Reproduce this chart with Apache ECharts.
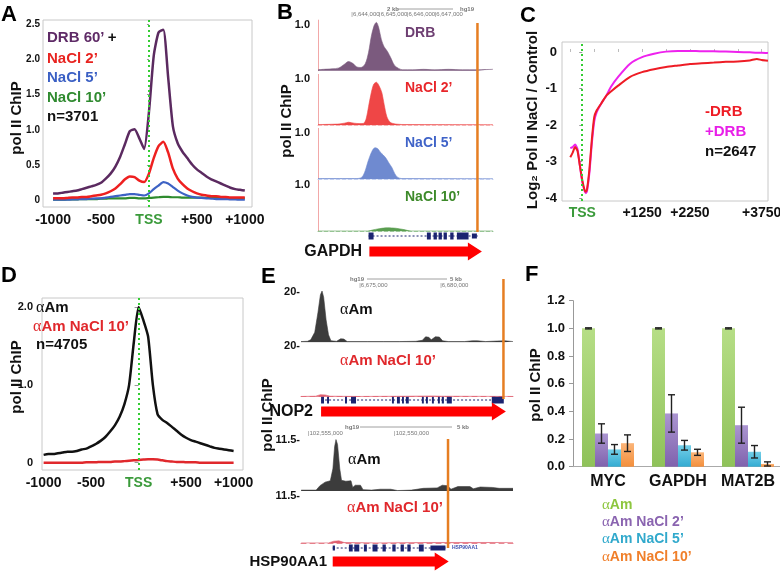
<!DOCTYPE html>
<html>
<head>
<meta charset="utf-8">
<script src="https://cdn.jsdelivr.net/npm/echarts@6/dist/echarts.min.js"></script>
<style>
  html, body { margin: 0; padding: 0; background: #fff; }
  #chart { width: 780px; height: 571px; }
</style>
</head>
<body>
<div id="chart"></div>
<script>
// ---------- data ----------
// A: metagene around TSS (DRB 60' + NaCl time course)
const aPos = [-1000,-950,-900,-850,-800,-750,-700,-650,-600,-550,-500,-450,-400,-350,-300,-250,-200,-150,-100,-50,0,50,100,150,200,250,300,350,400,450,500,550,600,650,700,750,800,850,900,950,1000];
const aDRB = [0.10,0.10,0.11,0.12,0.13,0.14,0.16,0.18,0.20,0.22,0.25,0.31,0.38,0.48,0.62,0.80,0.98,1.01,0.88,0.73,1.25,2.05,2.38,2.42,1.75,1.05,0.81,0.69,0.60,0.51,0.44,0.39,0.34,0.30,0.27,0.24,0.21,0.18,0.16,0.15,0.14];
const aNaCl2 = [0.03,0.03,0.03,0.035,0.04,0.04,0.05,0.05,0.06,0.07,0.08,0.10,0.13,0.17,0.23,0.30,0.34,0.33,0.28,0.26,0.38,0.60,0.77,0.83,0.68,0.45,0.31,0.23,0.17,0.13,0.10,0.08,0.07,0.06,0.06,0.05,0.05,0.04,0.04,0.04,0.04];
const aNaCl5 = [0.01,0.01,0.01,0.01,0.015,0.015,0.02,0.02,0.025,0.03,0.03,0.04,0.05,0.06,0.07,0.08,0.09,0.09,0.08,0.07,0.10,0.16,0.21,0.26,0.24,0.19,0.14,0.10,0.07,0.05,0.04,0.035,0.03,0.025,0.02,0.02,0.02,0.015,0.015,0.01,0.01];
const aNaCl10 = [0.01,0.01,0.01,0.015,0.015,0.015,0.02,0.02,0.02,0.02,0.025,0.025,0.03,0.03,0.03,0.03,0.035,0.035,0.03,0.03,0.035,0.04,0.045,0.05,0.05,0.045,0.045,0.04,0.04,0.04,0.04,0.04,0.035,0.035,0.035,0.03,0.03,0.03,0.03,0.03,0.03];
const aXTicks = [-1000, -500, 0, 500, 1000];
const aYTicks = [0, 0.5, 1, 1.5, 2, 2.5];

// C: log2 NaCl / control
const cPos = [-250,-200,-150,-100,-50,0,50,75,100,150,200,250,300,400,500,600,750,1000,1250,1500,1750,2000,2250,2500,2750,3000,3250,3500,3650,3750,3880];
const cMinusDRB = [-2.88,-2.75,-2.6,-2.7,-3.1,-3.5,-3.78,-3.82,-3.75,-3.2,-2.4,-1.78,-1.6,-1.4,-1.2,-1.08,-0.92,-0.68,-0.55,-0.47,-0.41,-0.37,-0.33,-0.31,-0.29,-0.27,-0.26,-0.23,-0.19,-0.22,-0.24];
const cPlusDRB = [-2.63,-2.6,-2.53,-2.65,-3.1,-3.55,-3.8,-3.86,-3.8,-3.3,-2.5,-1.9,-1.65,-1.4,-1.2,-0.95,-0.68,-0.32,-0.14,-0.05,0.01,0.03,0.03,0.02,0.02,0.01,0.0,-0.01,-0.02,-0.02,-0.03];
const cXLabels = [0, 1250, 2250, 3750];
const cXTicks = [-250, 250, 750, 1250, 1750, 2250, 2750, 3250, 3750];
const cYTicks = [0, -1, -2, -3, -4];

// D: alpha-amanitin metagene
const dAm = [0.10,0.11,0.11,0.12,0.13,0.14,0.14,0.15,0.17,0.18,0.21,0.24,0.28,0.33,0.40,0.48,0.59,0.75,1.00,1.55,2.00,1.83,1.62,1.00,0.62,0.55,0.51,0.46,0.41,0.36,0.32,0.29,0.27,0.25,0.23,0.21,0.19,0.18,0.17,0.16,0.15];
const dAmNaCl10 = [0,0,0,0,0,0,0,0,0,0.005,0.005,0.005,0.01,0.01,0.01,0.015,0.015,0.02,0.025,0.03,0.035,0.04,0.045,0.045,0.04,0.03,0.02,0.015,0.01,0.01,0.005,0.005,0.005,0,0,0,0,0,0,0,0];
const dYTicks = [0, 1, 2];

// B: GAPDH browser tracks, [kb, signal]
const bDRB = [[6642.8,0.02],[6643.0,0.03],[6643.3,0.04],[6643.55,0.06],[6643.75,0.14],[6643.9,0.2],[6644.05,0.16],[6644.2,0.08],[6644.35,0.07],[6644.5,0.15],[6644.62,0.4],[6644.72,0.75],[6644.82,0.98],[6644.9,1.05],[6644.98,0.95],[6645.08,0.68],[6645.18,0.52],[6645.3,0.42],[6645.42,0.28],[6645.55,0.12],[6645.7,0.05],[6645.85,0.02],[6646.2,0.02],[6646.6,0.03],[6647.0,0.02],[6647.5,0.03],[6648.0,0.02],[6648.5,0.02],[6649.1,0.03]];
const bNaCl2 = [[6642.8,0.01],[6643.5,0.02],[6643.75,0.04],[6643.9,0.06],[6644.1,0.04],[6644.3,0.03],[6644.45,0.04],[6644.54,0.15],[6644.62,0.4],[6644.7,0.65],[6644.8,0.88],[6644.9,0.93],[6645.0,0.85],[6645.1,0.7],[6645.18,0.45],[6645.28,0.18],[6645.4,0.06],[6645.6,0.02],[6646.0,0.01],[6649.1,0.01]];
const bNaCl5 = [[6642.8,0.01],[6644.2,0.01],[6644.38,0.04],[6644.5,0.18],[6644.6,0.38],[6644.74,0.6],[6644.85,0.68],[6644.95,0.66],[6645.05,0.58],[6645.15,0.52],[6645.25,0.45],[6645.35,0.35],[6645.46,0.25],[6645.56,0.12],[6645.66,0.04],[6645.8,0.01],[6649.1,0.01]];
const bNaCl10 = [[6642.8,0],[6644.6,0],[6644.75,0.02],[6645.0,0.05],[6645.3,0.07],[6645.6,0.06],[6645.9,0.03],[6646.15,0],[6649.1,0]];
const bRuler = [6643, 6644, 6645, 6646, 6647, 6648];
const gapdhExons = [[6644.62,6644.80,1],[6646.72,6646.86,1],[6646.96,6647.08,1],[6647.14,6647.26,1],[6647.32,6647.44,1],[6647.56,6647.68,1],[6647.80,6648.22,1],[6648.34,6648.52,0]];
const gapdhSpan = [6644.62, 6648.55];
const gapdhArrow = [6644.65, 6648.70];
const gapdhMark = 6648.54;

// E: NOP2 and HSP90AA1 tracks, [kb, signal]
const nopAm = [[6671.4,0.3],[6671.8,0.4],[6672.0,1.0],[6672.25,4],[6672.45,12],[6672.6,19],[6672.7,20.5],[6672.8,18],[6672.95,9],[6673.1,3],[6673.25,0.6],[6673.6,0.4],[6673.85,1.4],[6674.05,1.3],[6674.25,0.3],[6675.5,0.3],[6676.5,0.3],[6677.5,0.3],[6678.5,0.4],[6678.9,0.8],[6679.1,2.2],[6679.3,2.0],[6679.45,1.0],[6679.7,2.2],[6679.95,2.1],[6680.15,0.6],[6680.5,0.3],[6681.5,0.3],[6682.0,0.6],[6682.3,0.6],[6682.8,0.3],[6683.5,0.5],[6684.0,0.6],[6684.5,0.3]];
const nopAmNaCl = [[6671.4,0.1],[6672.3,0.2],[6672.6,0.8],[6672.9,0.7],[6673.2,0.2],[6675.0,0.1],[6678.0,0.2],[6679.6,0.3],[6680.0,0.2],[6684.5,0.1]];
const nopRuler = [6675, 6680];
const nopExons = [[6672.64,6672.82,1],[6673.01,6673.13,1],[6674.12,6674.24,1],[6674.49,6674.80,1],[6677.02,6677.14,1],[6677.33,6677.51,1],[6677.64,6677.76,1],[6677.88,6678.06,1],[6678.87,6678.99,1],[6679.12,6679.24,1],[6679.49,6679.61,1],[6679.86,6679.98,1],[6680.10,6680.23,1],[6680.41,6680.72,1],[6683.19,6683.93,1]];
const nopSpan = [6672.64, 6683.93];
const nopArrow = [6672.64, 6684.06];
const nopMark = 6683.91;

const hspAm = [[102555.39,0.2],[102554.52,0.2],[102554.3,1.2],[102554.0,2.0],[102553.7,2.3],[102553.55,5],[102553.45,10],[102553.37,11.6],[102553.28,10.5],[102553.15,5],[102553.05,2.4],[102552.8,2.2],[102552.5,2.3],[102552.4,0.8],[102552.25,1.3],[102551.95,1.3],[102551.8,0.3],[102551.3,0.2],[102550.8,0.4],[102550.2,0.4],[102549.8,0.1],[102549.0,0.2],[102548.3,0.6],[102547.5,0.7],[102547.2,1.3],[102546.9,1.2],[102546.7,0.4],[102546.3,1.0],[102545.6,1.0],[102545.4,0.5],[102545.0,0.9],[102544.3,0.8],[102543.9,0.6],[102543.1,0.6]];
const hspAmNaCl = [[102555.39,0.1],[102553.8,0.1],[102553.5,0.5],[102553.2,0.6],[102552.9,0.2],[102551.0,0.1],[102548.0,0.2],[102545.0,0.2],[102543.1,0.2]];
const hspRuler = [102555, 102550];
const hspExons = [[102553.56,102553.43,0],[102552.62,102552.40,1],[102552.31,102552.02,1],[102551.75,102551.58,1],[102551.25,102550.96,1],[102550.67,102550.48,1],[102550.10,102549.91,1],[102549.62,102549.43,1],[102549.23,102549.04,1],[102548.56,102548.28,1],[102547.89,102547.02,0]];
const hspSpan = [102553.56, 102547.02];
const hspArrow = [102553.56, 102546.83];
const hspMark = 102546.87;

// F: ChIP-qPCR
const fGenes = ['MYC', 'GAPDH', 'MAT2B'];
const fAm = [1.0, 1.0, 1.0];
const fAmErr = [0.004, 0.004, 0.004];
const fNaCl2 = [0.24, 0.385, 0.30];
const fNaCl2Err = [0.07, 0.135, 0.13];
const fNaCl5 = [0.125, 0.155, 0.108];
const fNaCl5Err = [0.035, 0.035, 0.045];
const fNaCl10 = [0.17, 0.104, 0.02];
const fNaCl10Err = [0.06, 0.022, 0.015];

// ---------- helpers ----------
const SANS = '"Liberation Sans", Arial, Helvetica, sans-serif';
const SERIF = '"Liberation Serif", "DejaVu Serif", serif';
const TSS_GREEN = '#3a9a3a';
const ORANGE = '#e67e22';
const NAVY = '#1b2470';
function font(size, weight) { return (weight || 'bold') + ' ' + size + 'px ' + SANS; }
function pair(xs, ys) { return xs.map((x, i) => [x, ys[i]]); }
function thousands(v) { return Math.round(v * 1000).toString().replace(/\B(?=(\d{3})+(?!\d))/g, ','); }
function posLabel(v) { return v === 0 ? '{t|TSS}' : (v > 0 ? '+' + v : String(v)); }

const grids = [], xAxes = [], yAxes = [], series = [], gfx = [];
function addGrid(g, xa, ya) {
  const i = grids.length;
  grids.push(Object.assign({ show: false, containLabel: false, outerBoundsMode: 'none' }, g));
  xAxes.push(Object.assign({ gridIndex: i, type: 'value', splitLine: { show: false } }, xa));
  yAxes.push(Object.assign({ gridIndex: i, type: 'value', splitLine: { show: false } }, ya));
  return i;
}
const box = { show: true, borderColor: '#c8c8c8', borderWidth: 1 };
const hidden = { show: false };

function tssLine() {
  return { silent: true, symbol: 'none', label: { show: false },
    lineStyle: { color: '#33cc33', type: [2, 3], width: 2 }, data: [{ xAxis: 0 }] };
}
function curve(gi, data, color, width, extra) {
  return Object.assign({ type: 'line', xAxisIndex: gi, yAxisIndex: gi, data: data, showSymbol: false,
    smooth: 0.2, lineStyle: { color: color, width: width }, itemStyle: { color: color }, z: 3 }, extra || {});
}
function track(gi, data, color, smooth) {
  return { type: 'line', xAxisIndex: gi, yAxisIndex: gi, data: data, showSymbol: false, smooth: smooth,
    lineStyle: { color: color, width: 0.6 }, areaStyle: { color: color, opacity: 1 } };
}
function xLabelStyle(vals, margin) {
  return { customValues: vals, formatter: posLabel, margin: margin, fontSize: 14, fontWeight: 'bold',
    color: '#111', fontFamily: SANS, rich: { t: { color: TSS_GREEN, fontSize: 14, fontWeight: 'bold', fontFamily: SANS } } };
}

// custom renderers
function geneRender(params, api) {
  const cs = params.coordSys;
  const x0 = api.coord([api.value(0), 0])[0];
  const x1 = api.coord([api.value(1), 0])[0];
  const h = api.value(2) ? 7 : 5;
  const cy = cs.y + cs.height / 2;
  return { type: 'rect', shape: { x: Math.min(x0, x1), y: cy - h / 2, width: Math.max(1.5, Math.abs(x1 - x0)), height: h },
    style: { fill: NAVY } };
}
function arrowRender(params, api) {
  const cs = params.coordSys;
  const x0 = api.coord([api.value(0), 0])[0];
  const x1 = api.coord([api.value(1), 0])[0];
  const cy = cs.y + cs.height / 2;
  const d = x1 > x0 ? 1 : -1, hl = 14, bh = 5, hh = 9;
  const xb = x1 - d * hl;
  return { type: 'polygon', shape: { points: [[x0, cy - bh], [xb, cy - bh], [xb, cy - hh], [x1, cy], [xb, cy + hh], [xb, cy + bh], [x0, cy + bh]] },
    style: { fill: '#ff0000' } };
}
function markRender(params, api) {
  const cs = params.coordSys;
  const x = api.coord([api.value(0), 0])[0];
  return { type: 'line', shape: { x1: x, y1: cs.y, x2: x, y2: cs.y + cs.height }, style: { stroke: ORANGE, lineWidth: 2.5 } };
}

// a locus: gene row, arrow row and orange marker share one x range
function locus(xr, inverse, geneRow, arrowRow, markRect, exons, span, arrow, mark) {
  const xa = Object.assign({ show: false, min: xr[0], max: xr[1], inverse: inverse });
  const ya = { show: false, min: 0, max: 1 };
  const gg = addGrid(geneRow, xa, ya);
  series.push({ type: 'line', xAxisIndex: gg, yAxisIndex: gg, data: [[span[0], 0.5], [span[1], 0.5]], showSymbol: false,
    lineStyle: { color: NAVY, width: 1, type: [2, 2] }, silent: true });
  series.push({ type: 'custom', xAxisIndex: gg, yAxisIndex: gg, renderItem: geneRender, data: exons, encode: { x: [0, 1] }, silent: true });
  const ga = addGrid(arrowRow, xa, ya);
  series.push({ type: 'custom', xAxisIndex: ga, yAxisIndex: ga, renderItem: arrowRender, data: [arrow], encode: { x: [0, 1] }, silent: true });
  const gm = addGrid(markRect, xa, ya);
  series.push({ type: 'custom', xAxisIndex: gm, yAxisIndex: gm, renderItem: markRender, data: [[mark]], encode: { x: 0 }, silent: true, z: 5 });
}

// ---------- panel A ----------
const gA = addGrid(Object.assign({ left: 43, top: 20, width: 209, height: 187 }, box),
  { min: -1105, max: 1075, axisLine: hidden, axisTick: hidden, axisLabel: xLabelStyle(aXTicks, 6) },
  { min: -0.093, max: 2.557, axisLine: hidden,
    axisTick: { show: true, customValues: aYTicks, length: 2, lineStyle: { color: '#999' } },
    axisLabel: { customValues: aYTicks, formatter: v => v === 0 ? '0' : v.toFixed(1), margin: 3, fontSize: 10, fontWeight: 'bold', color: '#111', fontFamily: SANS } });
series.push(curve(gA, pair(aPos, aNaCl10), '#2e8b2e', 2.2));
series.push(curve(gA, pair(aPos, aNaCl5), '#3d62c4', 2.2));
series.push(curve(gA, pair(aPos, aNaCl2), '#ee2020', 2.5));
series.push(curve(gA, pair(aPos, aDRB), '#5b2a60', 2.5, { markLine: tssLine() }));

// ---------- panel C ----------
const gC = addGrid(Object.assign({ left: 562, top: 42, width: 206, height: 159 }, box),
  { min: -423, max: 3881, axisLine: hidden,
    axisTick: { show: true, customValues: cXTicks, inside: true, length: 3, lineStyle: { color: '#bbb' } },
    axisLabel: xLabelStyle(cXLabels, 5) },
  { min: -4.074, max: 0.273, axisLine: hidden,
    axisTick: { show: true, customValues: cYTicks, length: 3, lineStyle: { color: '#999' } },
    axisLabel: { customValues: cYTicks, margin: 5, fontSize: 13, fontWeight: 'bold', color: '#111', fontFamily: SANS } });
series.push(curve(gC, pair(cPos, cPlusDRB), '#ee22ee', 2, { markLine: tssLine() }));
series.push(curve(gC, pair(cPos, cMinusDRB), '#ee1c25', 2));

// ---------- panel D ----------
const gD = addGrid(Object.assign({ left: 42, top: 298, width: 201, height: 172 }, box),
  { min: -1017, max: 1099, axisLine: hidden, axisTick: hidden, axisLabel: xLabelStyle(aXTicks, 6) },
  { min: -0.094, max: 2.115, axisLine: hidden,
    axisTick: { show: true, customValues: dYTicks, length: 4, lineStyle: { color: '#999' } },
    axisLabel: { customValues: dYTicks, formatter: v => v === 0 ? '0' : v.toFixed(1), margin: 9, fontSize: 11, fontWeight: 'bold', color: '#111', fontFamily: SANS } });
series.push(curve(gD, pair(aPos, dAmNaCl10), '#e0282c', 2.5));
series.push(curve(gD, pair(aPos, dAm), '#111111', 2.5, { markLine: tssLine() }));

// ---------- panel F ----------
const gF = addGrid({ left: 573, top: 300.7, width: 210, height: 166 },
  { type: 'category', data: fGenes, axisLine: { show: true, lineStyle: { color: '#aaa' } }, axisTick: hidden,
    axisLabel: { interval: 0, hideOverlap: false, margin: 7, fontSize: 16, fontWeight: 'bold', color: '#111', fontFamily: SANS } },
  { min: 0, max: 1.2, interval: 0.2, axisLine: { show: true, lineStyle: { color: '#999' } },
    axisTick: { show: true, length: 4, lineStyle: { color: '#999' } },
    axisLabel: { formatter: v => v.toFixed(1), margin: 8, fontSize: 13, fontWeight: 'bold', color: '#111', fontFamily: SANS } });
const fSets = [
  { vals: fAm, errs: fAmErr, top: '#b6de86', bot: '#8fc25a' },
  { vals: fNaCl2, errs: fNaCl2Err, top: '#ab95d1', bot: '#7f62ad' },
  { vals: fNaCl5, errs: fNaCl5Err, top: '#74cfe8', bot: '#33abd2' },
  { vals: fNaCl10, errs: fNaCl10Err, top: '#fbb579', bot: '#f38f3c' }
];
const barW = 13;
fSets.forEach((s, k) => {
  series.push({ type: 'bar', xAxisIndex: gF, yAxisIndex: gF, data: s.vals, barWidth: barW, barGap: '0%',
    itemStyle: { color: { type: 'linear', x: 0, y: 0, x2: 0, y2: 1, colorStops: [{ offset: 0, color: s.top }, { offset: 1, color: s.bot }] } } });
});
fSets.forEach((s, k) => {
  const off = (k - 1.5) * barW;
  series.push({ type: 'custom', xAxisIndex: gF, yAxisIndex: gF, silent: true, z: 5,
    data: s.vals.map((v, i) => [i, v, s.errs[i]]),
    renderItem: (params, api) => {
      const c = api.coord([api.value(0), api.value(1)]);
      const lo = api.coord([api.value(0), api.value(1) - api.value(2)]);
      const hi = api.coord([api.value(0), api.value(1) + api.value(2)]);
      const x = c[0] + off, st = { stroke: '#222', lineWidth: 1.4 };
      return { type: 'group', children: [
        { type: 'line', shape: { x1: x, y1: lo[1], x2: x, y2: hi[1] }, style: st },
        { type: 'line', shape: { x1: x - 3.5, y1: hi[1], x2: x + 3.5, y2: hi[1] }, style: st },
        { type: 'line', shape: { x1: x - 3.5, y1: lo[1], x2: x + 3.5, y2: lo[1] }, style: st }
      ] };
    } });
});

// ---------- panel B: GAPDH tracks ----------
const bX = [6642.8, 6649.1];
function bTrack(baseline, data, color, smooth, baseColor, topRuler) {
  const h = 46 * 1.1;
  const xa = topRuler
    ? { min: bX[0], max: bX[1], position: 'top', axisLine: hidden, axisTick: hidden,
        axisLabel: { customValues: bRuler, formatter: v => '|' + thousands(v), fontSize: 6, color: '#777', margin: 3, align: 'left', fontFamily: SANS } }
    : { min: bX[0], max: bX[1], axisLine: { show: true, lineStyle: { color: baseColor, width: 1, type: 'dashed' } }, axisTick: hidden, axisLabel: hidden };
  const gi = addGrid({ left: 318, top: baseline - h, width: 175, height: h }, xa,
    { min: 0, max: 1.1, axisLine: { show: true, lineStyle: { color: '#f2a8a8', width: 1 } }, axisTick: hidden,
      axisLabel: { customValues: [1], formatter: () => '1.0', margin: 8, fontSize: 11, fontWeight: 'bold', color: '#111', fontFamily: SANS } });
  series.push(track(gi, data, color, smooth));
}
bTrack(70.7, bDRB, '#7b5a7e', 0.3, null, true);
bTrack(125, bNaCl2, '#ef4646', 0.3, '#f4b4b4');
bTrack(179, bNaCl5, '#6f8ad0', 0.3, '#c2cff0');
bTrack(231, bNaCl10, '#5a9e50', 0.3, '#9cc79a');
locus(bX, false, { left: 318, top: 232, width: 175, height: 8 }, { left: 318, top: 242, width: 175, height: 19 },
  { left: 318, top: 23, width: 175, height: 209 }, gapdhExons, gapdhSpan, gapdhArrow, gapdhMark);

// ---------- panel E: NOP2 and HSP90AA1 ----------
function eTrack(baseline, unitPx, ymax, xr, inverse, data, color, baseColor, label, ruler) {
  const h = unitPx * ymax;
  const xa = ruler
    ? { min: xr[0], max: xr[1], inverse: inverse, position: 'top', axisLine: hidden, axisTick: hidden,
        axisLabel: { customValues: ruler, formatter: v => '|' + thousands(v), fontSize: 6, color: '#777', margin: 1, align: 'left', fontFamily: SANS } }
    : { min: xr[0], max: xr[1], inverse: inverse, axisLine: { show: true, lineStyle: { color: baseColor, width: 1, type: [5, 4] } }, axisTick: hidden, axisLabel: hidden };
  const gi = addGrid({ left: 301, top: baseline - h, width: 212, height: h }, xa,
    { min: 0, max: ymax, axisLine: hidden, axisTick: hidden,
      axisLabel: { customValues: [label.v], formatter: () => label.t, margin: 1, fontSize: 11, fontWeight: 'bold', color: '#111', fontFamily: SANS } });
  series.push(track(gi, data, color, 0));
  return gi;
}
const nopX = [6671.4, 6684.5];
const hspX = [102543.1, 102555.4];
eTrack(342.3, 2.5, 21, nopX, false, nopAm, '#3c3c3c', null, { v: 20, t: '20-' }, nopRuler);
eTrack(396.7, 2.535, 21, nopX, false, nopAmNaCl, '#e06070', '#e88a94', { v: 20, t: '20-' });
locus(nopX, false, { left: 301, top: 396, width: 212, height: 8 }, { left: 301, top: 402, width: 212, height: 19 },
  { left: 301, top: 279, width: 212, height: 120 }, nopExons, nopSpan, nopArrow, nopMark);
eTrack(491, 4.435, 12, hspX, true, hspAm, '#3c3c3c', null, { v: 11.5, t: '11.5-' }, hspRuler);
eTrack(543.3, 4.14, 12, hspX, true, hspAmNaCl, '#e06070', '#e88a94', { v: 11.5, t: '11.5-' });
locus(hspX, true, { left: 301, top: 544, width: 212, height: 8 }, { left: 301, top: 552, width: 212, height: 19 },
  { left: 301, top: 439, width: 212, height: 109 }, hspExons, hspSpan, hspArrow, hspMark);

// ---------- text ----------
function text(x, y, t, fill, size, align) {
  return { type: 'text', x: x, y: y, silent: true,
    style: { text: t, font: font(size || 15), fill: fill || '#111', align: align || 'left', verticalAlign: 'middle' } };
}
function vtext(x, y, t) {
  return { type: 'text', x: x, y: y, rotation: Math.PI / 2, silent: true,
    style: { text: t, font: font(15), fill: '#111', align: 'center', verticalAlign: 'middle' } };
}
function amText(x, y, rest, fill, size) {
  const s = size || 15;
  return { type: 'text', x: x, y: y, silent: true,
    style: { text: '{a|α}{b|' + rest + '}', align: 'left', verticalAlign: 'middle',
      rich: { a: { font: 'normal ' + (s + 1) + 'px ' + SERIF, fill: fill }, b: { font: font(s), fill: fill } } } };
}
function rulerLine(x1, x2, y) {
  return { type: 'line', silent: true, shape: { x1: x1, y1: y, x2: x2, y2: y }, style: { stroke: '#888', lineWidth: 0.8 } };
}

// panel letters
[['A', 1, 15], ['B', 277, 13], ['C', 520, 16], ['D', 1, 276], ['E', 261, 277], ['F', 525, 275]]
  .forEach(p => gfx.push(text(p[1], p[2], p[0], '#000', 22)));

// axis titles
gfx.push(vtext(17, 118, 'pol II ChIP'));
gfx.push(vtext(287, 121, 'pol II ChIP'));
gfx.push(vtext(533, 120, 'Log₂ Pol II NaCl / Control'));
gfx.push(vtext(17, 377, 'pol II ChIP'));
gfx.push(vtext(268, 415, 'pol II ChIP'));
gfx.push(vtext(536, 385, 'pol II ChIP'));

// panel A legend
gfx.push({ type: 'text', x: 47, y: 38, silent: true,
  style: { text: '{p|DRB 60’} {k|+}', align: 'left', verticalAlign: 'middle',
    rich: { p: { font: font(15), fill: '#5e2a66' }, k: { font: font(15), fill: '#111' } } } });
gfx.push(text(47, 59, 'NaCl 2’', '#e8231f'));
gfx.push(text(47, 78, 'NaCl 5’', '#3a5fc4'));
gfx.push(text(47, 98, 'NaCl 10’', '#2f8a2f'));
gfx.push(text(47, 117, 'n=3701', '#111'));

// panel B labels
gfx.push(text(405, 33, 'DRB', '#6e3f72', 14));
gfx.push(text(405, 88, 'NaCl 2’', '#e8262a', 14));
gfx.push(text(405, 143, 'NaCl 5’', '#3f63c8', 14));
gfx.push(text(405, 197, 'NaCl 10’', '#3d8a2a', 14));
gfx.push(text(362, 252, 'GAPDH', '#111', 16, 'right'));
gfx.push(text(387, 9, '2 kb', '#777', 6));
gfx.push(rulerLine(397, 453, 9));
gfx.push(text(460, 9, 'hg19', '#777', 6));

// panel C legend
gfx.push(text(705, 112, '-DRB', '#ee1c25'));
gfx.push(text(705, 132, '+DRB', '#e81ee8'));
gfx.push(text(705, 152, 'n=2647', '#111'));

// panel D legend
gfx.push(amText(36, 308, 'Am', '#111'));
gfx.push(amText(33, 327, 'Am NaCl 10’', '#e0282c'));
gfx.push(text(36, 345, 'n=4705', '#111'));

// panel E labels
gfx.push(text(350, 279, 'hg19', '#777', 6));
gfx.push(rulerLine(367, 447, 279));
gfx.push(text(450, 279, '5 kb', '#777', 6));
gfx.push(amText(340, 310, 'Am', '#111'));
gfx.push(amText(340, 361, 'Am NaCl 10’', '#e0282c'));
gfx.push(text(313, 412, 'NOP2', '#111', 16, 'right'));
gfx.push(text(345, 427, 'hg19', '#777', 6));
gfx.push(rulerLine(360, 452, 427));
gfx.push(text(457, 427, '5 kb', '#777', 6));
gfx.push(amText(348, 460, 'Am', '#111'));
gfx.push(amText(347, 508, 'Am NaCl 10’', '#e0282c'));
gfx.push(text(452, 548, 'HSP90AA1', '#3b4fb0', 5));
gfx.push(text(327, 562, 'HSP90AA1', '#111', 15, 'right'));

// panel F legend
gfx.push(amText(602, 505, 'Am', '#8dc63f', 14));
gfx.push(amText(602, 522, 'Am NaCl 2’', '#8a64b0', 14));
gfx.push(amText(602, 539, 'Am NaCl 5’', '#31a9cc', 14));
gfx.push(amText(602, 557, 'Am NaCl 10’', '#f07f2a', 14));

// ---------- render ----------
const chart = echarts.init(document.getElementById('chart'), null, { renderer: 'canvas' });
chart.setOption({
  backgroundColor: '#ffffff',
  animation: false,
  textStyle: { fontFamily: SANS },
  grid: grids,
  xAxis: xAxes,
  yAxis: yAxes,
  series: series,
  graphic: gfx
});
</script>
</body>
</html>
